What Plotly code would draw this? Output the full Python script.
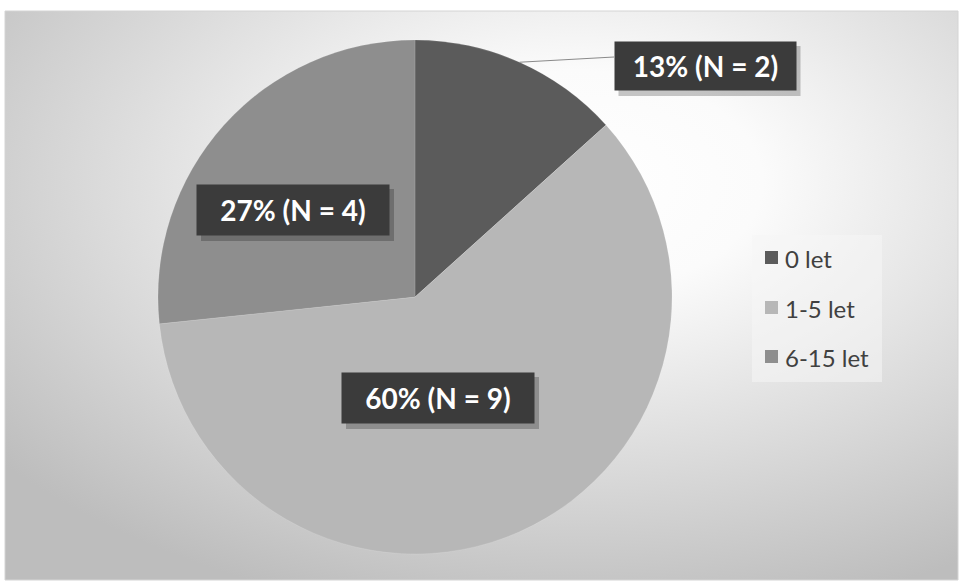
import base64
import math
import plotly.graph_objects as go

# ---- data ----
categories = ["0 let", "1-5 let", "6-15 let"]
counts = [2, 9, 4]
percent_labels = ["13%", "60%", "27%"]
colors = ["#5b5b5b", "#b7b7b7", "#8e8e8e"]

W, H = 960, 582

def px(x):
    return x / W

def py(y):
    return 1 - y / H

# pie geometry (pixels)
cx, cy, R = 415, 297, 257

fig = go.Figure()
fig.add_trace(go.Pie(
    labels=categories,
    values=counts,
    sort=False,
    direction="clockwise",
    rotation=0,
    marker=dict(colors=colors, line=dict(color="rgba(255,255,255,0.25)", width=0.5)),
    textinfo="none",
    hoverinfo="label+value+percent",
    showlegend=False,
    domain=dict(x=[px(cx - R), px(cx + R)], y=[py(cy + R), py(cy - R)]),
))

# radial gradient background via SVG data URI
svg = f'''<svg xmlns="http://www.w3.org/2000/svg" width="953" height="569" viewBox="0 0 953 569" preserveAspectRatio="none">
<defs><radialGradient id="g" cx="0.6" cy="0.3" r="0.78" fx="0.6" fy="0.3">
<stop offset="0" stop-color="#ffffff"/>
<stop offset="0.25" stop-color="#fbfbfb"/>
<stop offset="1" stop-color="#bdbdbd"/>
</radialGradient></defs>
<rect x="0" y="0" width="953" height="569" fill="url(#g)"/>
</svg>'''
src = "data:image/svg+xml;base64," + base64.b64encode(svg.encode()).decode()

x0, y0, x1, y1 = 5, 11, 958, 580
images = [dict(source=src, xref="paper", yref="paper", x=px(x0), y=py(y0),
               sizex=px(x1) - px(x0), sizey=py(y0) - py(y1),
               sizing="stretch", layer="below", xanchor="left", yanchor="top")]

shapes = [dict(type="rect", xref="paper", yref="paper", x0=px(x0), x1=px(x1), y0=py(y1), y1=py(y0),
               line=dict(color="#d4d4d4", width=1), fillcolor="rgba(0,0,0,0)", layer="below")]

annotations = []

# data labels (dark boxes)
total = sum(counts)
label_spots = [(705, 66), (438, 398), (293, 210)]
box_sizes = [(181, 48), (192, 50), (192, 50)]
for i, (lab, n) in enumerate(zip(percent_labels, counts)):
    lx, ly = label_spots[i]
    bw, bh = box_sizes[i]
    # shadow
    shapes.append(dict(type="rect", xref="paper", yref="paper",
                       x0=px(lx - bw / 2 + 4), x1=px(lx + bw / 2 + 5),
                       y0=py(ly + bh / 2 + 6), y1=py(ly - bh / 2 + 4),
                       fillcolor="rgba(0,0,0,0.22)", line=dict(width=0), layer="above"))
    annotations.append(dict(
        xref="paper", yref="paper", x=px(lx), y=py(ly),
        text=f"<b>{lab} (N = {n})</b>", showarrow=False,
        font=dict(family="Lato, Open Sans, sans-serif", size=28, color="#ffffff"),
        bgcolor="#3b3b3b", width=bw - 2, height=bh - 2, borderpad=1,
        xanchor="center", yanchor="middle", align="center", valign="middle"))

# leader line for first slice, from slice edge at its mid-angle to label box
mid_angle = 360 * (counts[0] / 2) / total
ex = cx + R * math.sin(math.radians(mid_angle))
ey = cy - R * math.cos(math.radians(mid_angle))
shapes.append(dict(type="line", xref="paper", yref="paper",
                   x0=px(ex), y0=py(ey), x1=px(614), y1=py(57),
                   line=dict(color="#8a8a8a", width=1)))

# manual legend
shapes.append(dict(type="rect", xref="paper", yref="paper",
                   x0=px(752), x1=px(882), y0=py(382), y1=py(235),
                   fillcolor="rgba(245,245,245,0.55)", line=dict(width=0), layer="below"))
leg_y = [258, 308, 357]
for cat, col, yy in zip(categories, colors, leg_y):
    shapes.append(dict(type="rect", xref="paper", yref="paper",
                       x0=px(765), x1=px(778), y0=py(yy + 6), y1=py(yy - 7),
                       fillcolor=col, line=dict(width=0)))
    annotations.append(dict(xref="paper", yref="paper", x=px(783), y=py(yy),
                            text=cat, showarrow=False, xanchor="left", yanchor="middle",
                            font=dict(family="Lato, Open Sans, sans-serif", size=24, color="#404040")))

fig.update_layout(
    width=W, height=H,
    margin=dict(l=0, r=0, t=0, b=0),
    paper_bgcolor="#ffffff",
    plot_bgcolor="#ffffff",
    images=images,
    shapes=shapes,
    annotations=annotations,
    showlegend=False,
)

fig.write_html("out.html")
